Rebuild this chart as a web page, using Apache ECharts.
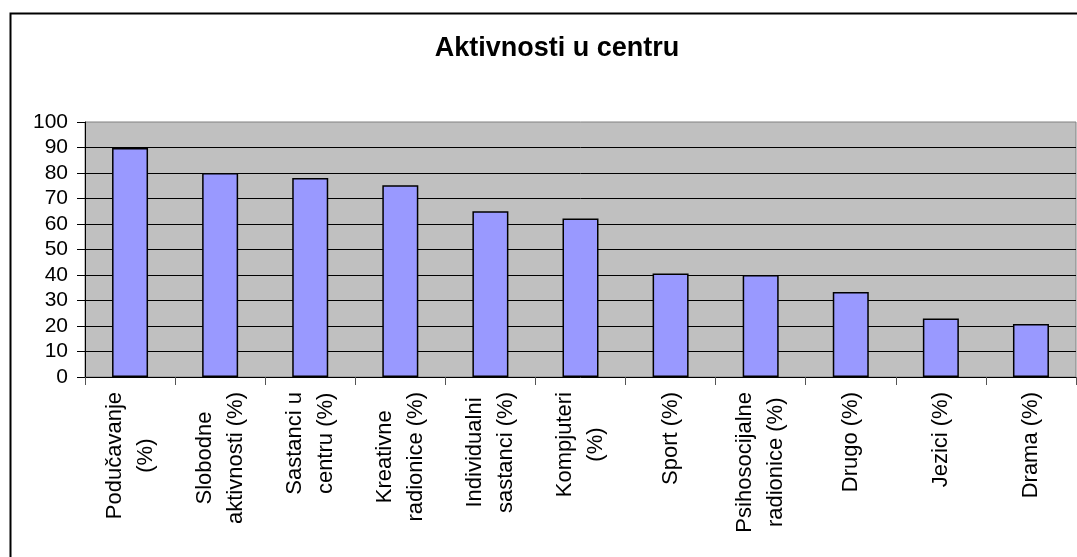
<!DOCTYPE html>
<html>
<head>
<meta charset="utf-8">
<script src="https://cdn.jsdelivr.net/npm/echarts@6/dist/echarts.min.js"></script>
<style>
  html, body { margin: 0; padding: 0; background: #fff; }
  #chart { width: 1077px; height: 557px; }
</style>
</head>
<body>
<div id="chart"></div>
<script>
  // kategorije (prelom reda kao u originalu)
  var categories = [
    'Podučavanje\n(%)',
    'Slobodne\naktivnosti (%)',
    'Sastanci u\ncentru (%)',
    'Kreativne\nradionice (%)',
    'Individualni\nsastanci (%)',
    'Kompjuteri\n(%)',
    'Sport (%)',
    'Psihosocijalne\nradionice (%)',
    'Drugo (%)',
    'Jezici (%)',
    'Drama (%)'
  ];
  var values = [89.8, 80, 78, 75.2, 65, 62.2, 40.6, 40, 33.3, 22.9, 20.8];
  var titleText = 'Aktivnosti u centru';

  var fontFamily = '"Liberation Sans", Arial, sans-serif';
  var myChart = echarts.init(document.getElementById('chart'));

  var option = {
    backgroundColor: '#ffffff',
    animation: false,
    title: {
      text: titleText,
      left: 552,
      top: 30,
      textAlign: 'center',
      textStyle: { fontFamily: fontFamily, fontSize: 27, fontWeight: 'bold', color: '#000' }
    },
    graphic: [{
      type: 'rect',
      left: 8, top: 11,
      shape: { width: 1200, height: 700 },
      style: { fill: 'none', stroke: '#000', lineWidth: 2 },
      silent: true,
      z: 100
    }],
    grid: {
      left: 85, right: 1, top: 122, bottom: 180,
      show: true,
      backgroundColor: '#c0c0c0',
      borderColor: '#808080',
      borderWidth: 1
    },
    xAxis: {
      type: 'category',
      data: categories,
      boundaryGap: true,
      axisLine: { lineStyle: { color: '#000', width: 1 } },
      axisTick: { show: true, inside: false, length: 8, alignWithLabel: false, lineStyle: { color: '#555' } },
      axisLabel: {
        interval: 0,
        rotate: 90,
        margin: 15,
        formatter: function (v) {
          return v.split('\n').map(function (s) { return '{c|' + s + '}'; }).join('\n');
        },
        rich: {
          c: { align: 'center', fontFamily: fontFamily, fontSize: 22, lineHeight: 31, color: '#000' }
        }
      }
    },
    yAxis: {
      type: 'value',
      min: 0, max: 100, interval: 10,
      axisLine: { show: true, lineStyle: { color: '#000', width: 1 } },
      axisTick: { show: true, inside: false, length: 8, lineStyle: { color: '#000' } },
      axisLabel: { margin: 17, fontFamily: fontFamily, fontSize: 21, color: '#000' },
      splitLine: { show: true, showMinLine: false, showMaxLine: false, lineStyle: { color: '#000', width: 1 } }
    },
    series: [{
      type: 'bar',
      data: values,
      barWidth: 36,
      itemStyle: { color: '#9999ff', borderColor: '#000', borderWidth: 1.5 }
    }]
  };

  myChart.setOption(option);
</script>
</body>
</html>
